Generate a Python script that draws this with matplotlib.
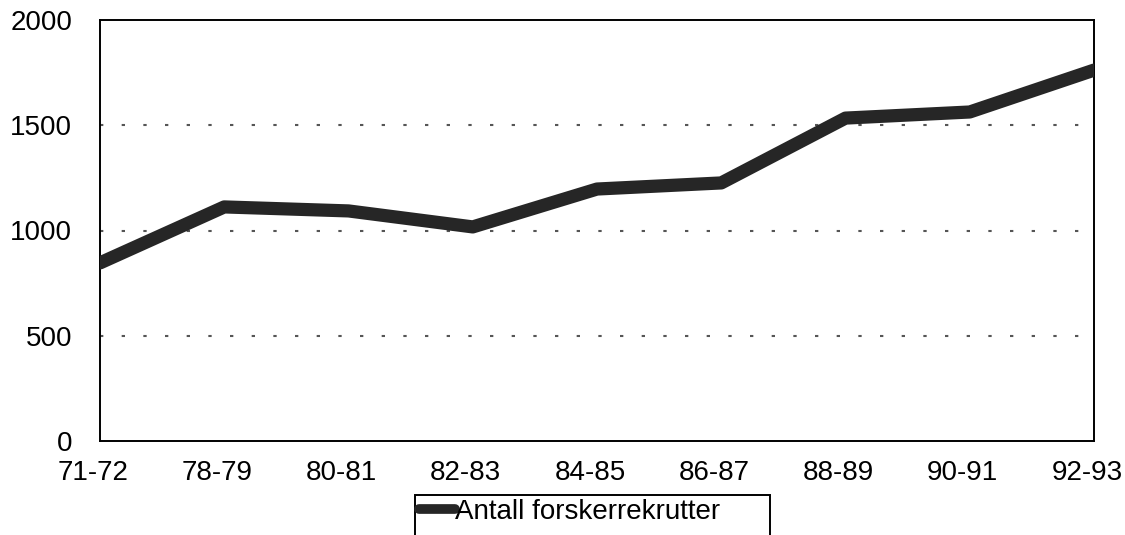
import matplotlib.pyplot as plt
import matplotlib.transforms as mtransforms
from matplotlib.patches import Rectangle

plt.rcParams['font.family'] = ['Liberation Sans', 'DejaVu Sans']

years = ['71-72', '78-79', '80-81', '82-83', '84-85', '86-87', '88-89', '90-91', '92-93']
recruits = [846, 1112, 1093, 1017, 1197, 1226, 1534, 1563, 1762]
yticks = [0, 500, 1000, 1500, 2000]

W, H = 1125, 535
fig = plt.figure(figsize=(W / 100, H / 100), dpi=100)
ax = fig.add_axes([100 / W, 1 - 441 / H, 994 / W, 421 / H])

x = range(len(years))
line, = ax.plot(x, recruits, color='#262626', lw=9.5, solid_capstyle='round',
                solid_joinstyle='round', label='Antall forskerrekrutter', zorder=3)

for v in yticks[1:-1]:
    ax.axhline(v, color='#555555', lw=1.5, ls=(0, (1.6, 8.8)), zorder=1)

ax.set_xlim(0, len(years) - 1)
ax.set_ylim(0, 2000)
ax.set_xticks(list(x))
ax.set_xticklabels(years)
ax.set_yticks(yticks)
ax.tick_params(length=0, labelsize=20, colors='black')
ax.tick_params(axis='y', pad=20)
ax.tick_params(axis='x', pad=14)
for s in ax.spines.values():
    s.set_linewidth(1.4)
    s.set_color('black')

# x labels sit a little left of the points in the original
shift = mtransforms.ScaledTranslation(-7 / 100, 0, fig.dpi_scale_trans)
for lab in ax.get_xticklabels():
    lab.set_transform(lab.get_transform() + shift)

# legend box, cut off by the bottom edge
fig.patches.append(Rectangle((415 / W, -0.05), 355 / W, 0.05 + 1 - 495 / H,
                             transform=fig.transFigure, fill=False,
                             edgecolor='black', lw=1.4))
leg = fig.legend(handles=[line], loc='upper left', bbox_to_anchor=(419 / W, 1 - 499 / H),
                 fontsize=20, frameon=False, handlelength=1.3, handletextpad=0.0,
                 borderpad=0, borderaxespad=0)
leg.legend_handles[0].set_linewidth(7)

fig.savefig('out.png', dpi=100)
